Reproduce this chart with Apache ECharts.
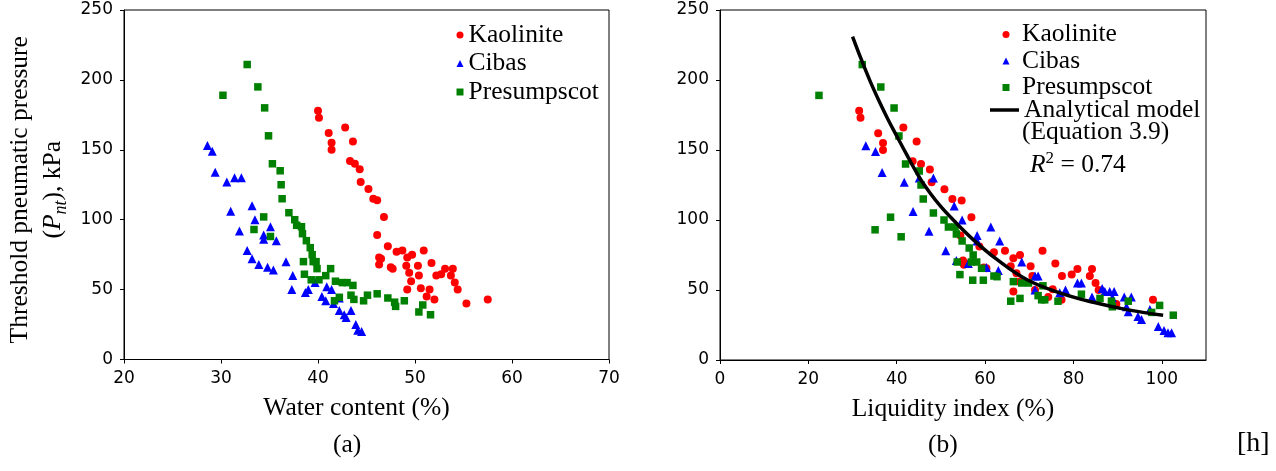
<!DOCTYPE html>
<html>
<head>
<meta charset="utf-8">
<script src="https://cdn.jsdelivr.net/npm/echarts@6/dist/echarts.min.js"></script>
<style>
  html, body { margin: 0; padding: 0; background: #fff; }
  #chart { width: 1276px; height: 471px; }
</style>
</head>
<body>
<div id="chart"></div>
<script>
// Threshold pneumatic pressure (kPa) vs. water content (%) for each soil
const kaoliniteByWater = [
  [40.0,178],[40.1,173],[41.1,162],[41.4,155],[41.4,150],[42.8,166],[43.6,156],[43.3,142],
  [43.8,140],[44.3,136],[44.4,127],[45.2,122],[45.7,115],[46.1,114],[46.1,89],[46.3,73],
  [46.5,72],[46.3,68],[46.8,102],[47.2,81],[47.5,66],[47.7,65],[48.1,77],[48.7,78],
  [49.1,67],[49.4,62],[49.2,73],[49.7,75],[49.6,56],[49.2,50],[50.3,67],[50.4,60],
  [50.6,51],[50.9,78],[51.2,45],[51.5,50],[51.7,69],[52.0,43],[52.2,60],[52.7,61],
  [53.1,65],[53.9,65],[53.7,60],[54.1,55],[54.4,50],[55.3,40],[57.5,43]
];
const cibasByWater = [
  [28.6,153],[29.1,149],[29.4,134],[30.6,127],[31.4,130],[32.1,130],[31.0,106],[33.2,110],
  [33.5,100],[31.9,92],[35.1,95],[34.4,89],[34.4,86],[35.7,85],[32.7,78],[33.2,72],
  [33.9,68],[34.8,66],[35.4,64],[36.7,70],[37.4,60],[37.3,50],[38.7,48],[39.0,50],
  [39.7,55],[40.9,52],[41.4,50],[40.4,45],[40.8,42],[41.6,40],[42.2,44],[42.2,35],
  [42.7,32],[42.9,30],[43.4,35],[43.9,25],[44.1,21],[44.5,20]
];
const presumpscotByWater = [
  [30.2,189],[32.7,211],[33.8,195],[34.5,180],[34.9,160],[35.3,140],[36.1,135],[36.2,125],
  [36.3,115],[37.0,105],[37.6,100],[37.8,96],[38.3,95],[38.4,90],[38.8,85],[39.2,80],
  [39.4,75],[39.5,70],[39.8,70],[38.5,70],[39.9,65],[41.3,65],[34.4,102],[33.4,93],
  [35.1,88],[38.6,61],[39.3,57],[40.1,57],[40.8,60],[41.8,56],[42.5,55],[43.0,55],
  [43.6,53],[41.7,42],[42.2,44.5],[43.4,46],[43.7,43],[44.7,42],[45.1,46],[46.1,47],
  [47.2,44],[47.9,41],[48.0,38],[48.9,42],[50.4,34],[50.8,39],[51.6,32]
];

// Threshold pneumatic pressure (kPa) vs. liquidity index (%)
const kaoliniteByLI = [
  [31.5,178],[31.8,173],[35.8,162],[36.9,155],[36.9,150],[41.5,166],[44.5,156],[43.6,142],
  [45.5,140],[47.5,136],[47.9,127],[50.8,122],[52.6,115],[54.7,114],[54.4,89],[55.0,71],
  [55.7,69],[55.2,68],[56.9,102],[58.7,81],[59.7,66],[60.3,65.5],[62.0,77],[64.5,78],
  [65.8,67],[67.1,62],[66.4,72.6],[67.9,75],[67.8,56],[66.4,49],[70.3,67],[70.7,60],
  [71.3,50],[73.0,78],[74.3,45],[75.3,50.5],[75.9,69],[77.3,43],[77.4,60],[79.6,61],
  [80.9,65],[84.2,65],[83.7,60],[85.0,55],[85.7,50],[89.7,40],[98.0,43]
];
const cibasByLI = [
  [33.0,153],[35.2,149],[36.7,134],[41.7,127],[45.1,130],[48.3,130],[43.7,106],[53.0,110],
  [54.8,100],[47.3,92],[61.3,95],[58.2,89],[58.2,85],[63.3,85],[51.1,78],[53.5,71],
  [56.2,69],[60.3,66],[63.0,64],[68.3,70],[71.3,60],[72.0,60],[71.3,50],[76.9,48],
  [78.2,50],[80.9,55],[81.8,55],[84.2,45],[86.5,51],[87.1,49],[88.2,49],[89.2,49],
  [88.8,44.5],[91.5,45],[93.1,45],[92.0,38],[92.4,34.5],[94.6,31],[95.4,29],[97.3,36],
  [99.2,24],[100.5,21],[101.4,19.5],[102.2,19.5]
];
const presumpscotByLI = [
  [22.4,189],[32.2,211],[36.4,195],[39.4,180],[40.5,160],[42.0,140],[45.1,135],[45.5,125],
  [46.0,115],[48.3,105],[50.7,100],[51.7,95],[53.2,95],[53.5,90],[54.8,85],[56.4,80],
  [57.3,75],[56.9,70],[58.1,70],[53.7,70],[59.2,65.5],[62.0,60],[62.7,59.5],[54.3,61],
  [57.2,57],[59.6,57],[38.6,102],[35.1,93],[41.0,88],[66.4,56],[68.3,55],[69.8,55],
  [73.1,53],[65.8,42],[67.9,44],[72.0,46],[72.8,43],[73.5,43],[76.5,42],[81.8,47],
  [86.0,44],[88.6,42],[88.8,38],[92.4,42],[97.7,34],[99.5,39],[102.6,32]
];

// Analytical model (Equation 3.9) traced along the liquidity-index range
const modelCurve = [
  [30.0,231],[32.0,214.5],[34.0,199],[36.0,185],[38.0,172],[40.0,160],[42.2,147],
  [45.2,130],[47.5,119.5],[50.0,109.5],[52.8,100],[57.3,86],[62.6,72],[69.4,57.5],
  [76.9,48],[84.5,41.2],[92.0,36],[100.3,32]
];

const liTicks = [0, 20, 40, 60, 80, 100];

const RED = '#ff0000', BLUE = '#0000ff', GREEN = '#008000';
const SERIF = '"Liberation Serif", "Times New Roman", serif';
const SANS = '"DejaVu Sans", sans-serif';

const tickLabel = { color: '#000', fontFamily: SANS, fontSize: 17, margin: 11 };
const axisLine = { show: true, onZero: false, lineStyle: { color: '#000', width: 1 } };
const axisTick = { show: true, inside: false, length: 4, lineStyle: { color: '#000', width: 1 } };
const legendText = { fontFamily: SERIF, fontSize: 25.5, color: '#000' };

function scatter(name, data, idx, symbol, size, color) {
  return {
    type: 'scatter', name, data, xAxisIndex: idx, yAxisIndex: idx,
    symbol, symbolSize: size, itemStyle: { color, opacity: 1 },
    emphasis: { disabled: true }, silent: true, z: 2
  };
}

const chart = echarts.init(document.getElementById('chart'), null, { renderer: 'canvas' });

chart.setOption({
  backgroundColor: '#fff',
  animation: false,
  grid: [
    { left: 124, top: 10, width: 485, height: 349.5, show: true, borderColor: '#000', borderWidth: 1, backgroundColor: 'transparent' },
    { left: 720, top: 10, width: 486, height: 350, show: true, borderColor: '#000', borderWidth: 1, backgroundColor: 'transparent' }
  ],
  xAxis: [
    {
      type: 'value', gridIndex: 0, min: 20, max: 70, interval: 10,
      axisLine, axisTick, axisLabel: tickLabel, splitLine: { show: false },
      name: 'Water content (%)', nameLocation: 'middle', nameGap: 36,
      nameTextStyle: { fontFamily: SERIF, fontSize: 25.5, color: '#000', padding: [0, 20, 0, 0] }
    },
    {
      type: 'value', gridIndex: 1, min: 0, max: 110,
      axisLine,
      axisTick: Object.assign({}, axisTick, { customValues: liTicks }),
      axisLabel: Object.assign({}, tickLabel, { customValues: liTicks }),
      splitLine: { show: false },
      name: 'Liquidity index (%)', nameLocation: 'middle', nameGap: 36,
      nameTextStyle: { fontFamily: SERIF, fontSize: 25.5, color: '#000', padding: [0, 20, 0, 0] }
    }
  ],
  yAxis: [
    {
      type: 'value', gridIndex: 0, min: 0, max: 250, interval: 50,
      axisLine, axisTick, axisLabel: tickLabel, splitLine: { show: false },
      name: '{t|Threshold pneumatic pressure}\n{a|(}{i|P}{s|nt}{a|), kPa}',
      nameLocation: 'middle', nameRotate: 90, nameGap: 54,
      nameTextStyle: {
        fontFamily: SERIF, fontSize: 25.5, color: '#000', lineHeight: 33, padding: [0, 10, 0, 0],
        rich: {
          t: { fontFamily: SERIF, fontSize: 25.5, lineHeight: 33 },
          a: { fontFamily: SERIF, fontSize: 25.5, lineHeight: 33 },
          i: { fontFamily: SERIF, fontSize: 25.5, fontStyle: 'italic', lineHeight: 33 },
          s: { fontFamily: SERIF, fontSize: 18, fontStyle: 'italic', verticalAlign: 'bottom', lineHeight: 24 }
        }
      }
    },
    {
      type: 'value', gridIndex: 1, min: 0, max: 250, interval: 50,
      axisLine, axisTick, axisLabel: tickLabel, splitLine: { show: false }
    }
  ],
  legend: [
    {
      data: ['Kaolinite', 'Cibas', 'Presumpscot'],
      orient: 'vertical', left: 451.5, top: 16, itemWidth: 7, itemHeight: 7, itemGap: 0.5,
      selectedMode: false,
      textStyle: Object.assign({ lineHeight: 28 }, legendText)
    },
    {
      data: ['Kaolinite', 'Cibas', 'Presumpscot'],
      orient: 'vertical', left: 997.5, top: 16.5, itemWidth: 7, itemHeight: 7, itemGap: 0.5,
      selectedMode: false,
      textStyle: Object.assign({ lineHeight: 26, padding: [0, 0, 0, 7.5] }, legendText)
    },
    {
      data: [{ name: 'Analytical model', icon: 'rect' }],
      orient: 'vertical', left: 985, top: 92, itemWidth: 29, itemHeight: 3.5,
      selectedMode: false,
      itemStyle: { color: '#000' },
      textStyle: Object.assign({ lineHeight: 26 }, legendText)
    }
  ],
  graphic: [
    { type: 'text', left: 1022, top: 119, silent: true,
      style: { text: '(Equation 3.9)', font: '25.5px ' + SERIF, fill: '#000' } },
    { type: 'text', left: 1030, top: 150, silent: true,
      style: {
        text: '{i|R}{p|2}{n| = 0.74}', fill: '#000',
        rich: {
          i: { fontFamily: SERIF, fontSize: 25.5, fontStyle: 'italic', lineHeight: 30 },
          p: { fontFamily: SERIF, fontSize: 17, verticalAlign: 'top', lineHeight: 30 },
          n: { fontFamily: SERIF, fontSize: 25.5, lineHeight: 30 }
        }
      } },
    { type: 'text', left: 333, top: 432, silent: true,
      style: { text: '(a)', font: '25.5px ' + SERIF, fill: '#000' } },
    { type: 'text', left: 928, top: 432, silent: true,
      style: { text: '(b)', font: '25.5px ' + SERIF, fill: '#000' } },
    { type: 'text', left: 1237, top: 430, silent: true,
      style: { text: '[h]', font: '28px ' + SERIF, fill: '#000' } }
  ],
  series: [
    scatter('Kaolinite', kaoliniteByWater, 0, 'circle', 8, RED),
    scatter('Cibas', cibasByWater, 0, 'triangle', 9, BLUE),
    scatter('Presumpscot', presumpscotByWater, 0, 'rect', 7.5, GREEN),
    scatter('Kaolinite', kaoliniteByLI, 1, 'circle', 8, RED),
    scatter('Cibas', cibasByLI, 1, 'triangle', 9, BLUE),
    scatter('Presumpscot', presumpscotByLI, 1, 'rect', 7.5, GREEN),
    {
      type: 'line', name: 'Analytical model', data: modelCurve,
      xAxisIndex: 1, yAxisIndex: 1, smooth: 0.4,
      symbol: 'none', showSymbol: false,
      lineStyle: { color: '#000', width: 3.5 }, itemStyle: { color: '#000' },
      emphasis: { disabled: true }, silent: true, z: 3
    }
  ]
});
</script>
</body>
</html>
